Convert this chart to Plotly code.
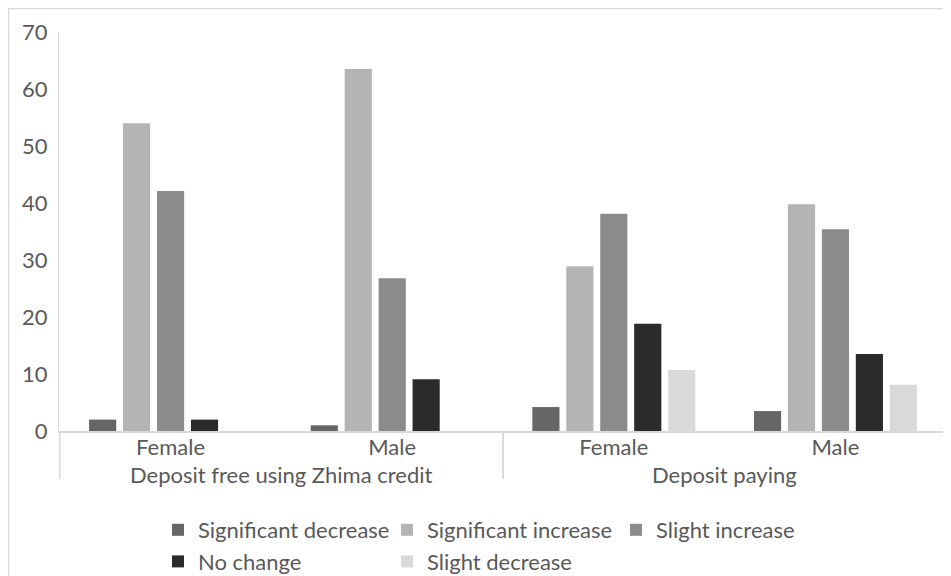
import plotly.graph_objects as go

groups = ["Deposit free using Zhima credit", "Deposit free using Zhima credit", "Deposit paying", "Deposit paying"]
genders = ["Female", "Male", "Female", "Male"]

series_names = ["Significant decrease", "Significant increase", "Slight increase", "No change", "Slight decrease"]
sig_decrease = [2, 1, 4.2, 3.5]
sig_increase = [54, 63.5, 28.9, 39.8]
slight_increase = [42.1, 26.8, 38.1, 35.4]
no_change = [2, 9.1, 18.8, 13.5]
slight_decrease = [None, None, 10.7, 8.1]
colors = ["#666666", "#b4b4b4", "#8b8b8b", "#2b2b2b", "#d9d9d9"]

values = [sig_decrease, sig_increase, slight_increase, no_change, slight_decrease]

# unique category keys (group|gender), labelled by gender on the axis
cat_keys = [g + "|" + s for g, s in zip(groups, genders)]

fig = go.Figure()
for name, vals, col in zip(series_names, values, colors):
    fig.add_trace(go.Bar(x=cat_keys, y=vals, name=name, marker_color=col,
                         marker_line_width=0))

OFF = 8  # page body margin
W, H = 943, 568
L, R, T, B = 59 - OFF, 4, 32 - OFF, 145
pw, ph = W - L - R, H - T - B

def px_x(p):  # page pixel -> paper
    return (p - OFF - L) / pw

def px_y(p):
    return (H - B - (p - OFF)) / ph

FS = 22
GREY = "#595959"
LINE = "#d9d9d9"

annotations = []
shapes = []
unique_groups = list(dict.fromkeys(groups))
for g in unique_groups:
    idx = [i for i, gg in enumerate(groups) if gg == g]
    annotations.append(dict(text=g, xref="x", yref="paper", x=sum(idx) / len(idx),
                            y=px_y(474), yanchor="middle", xanchor="center", showarrow=False,
                            borderpad=0, font=dict(size=FS, color=GREY)))
    for xb in (idx[0] - 0.5, idx[-1] + 0.5):
        shapes.append(dict(type="line", xref="x", yref="paper", x0=xb, x1=xb,
                           y0=0, y1=px_y(479), line=dict(color=LINE, width=1.5)))

shapes.append(dict(type="rect", xref="paper", yref="paper",
                   x0=px_x(8.5), x1=px_x(949), y0=px_y(620), y1=px_y(8.5),
                   line=dict(color=LINE, width=1.5), fillcolor="rgba(0,0,0,0)", layer="below"))

fig.update_layout(
    width=W, height=H,
    margin=dict(l=L, r=R, t=T, b=B, autoexpand=False),
    paper_bgcolor="white", plot_bgcolor="white",
    font=dict(family="Lato, Carlito, sans-serif", size=FS, color=GREY),
    barmode="group", bargap=0.234, bargroupgap=0.2,
    showlegend=True,
    legend=dict(orientation="h", x=px_x(158), xanchor="left", y=px_y(509), yanchor="top",
                entrywidth=184, font=dict(size=FS, color=GREY), traceorder="normal",
                itemwidth=30, tracegroupgap=0),
    xaxis=dict(type="category", tickmode="array", tickvals=cat_keys, ticktext=genders,
               showline=True, linecolor=LINE, linewidth=1.5,
               ticks="", ticklabelstandoff=-4,
               tickfont=dict(size=FS, color=GREY), showgrid=False, automargin=False),
    yaxis=dict(range=[0, 70], dtick=10, showline=True, linecolor=LINE, linewidth=1,
               showgrid=False, zeroline=False, ticks="", ticklabelstandoff=6, automargin=False,
               tickfont=dict(size=FS, color=GREY)),
    annotations=annotations,
    shapes=shapes,
)

fig.write_html("out.html")
